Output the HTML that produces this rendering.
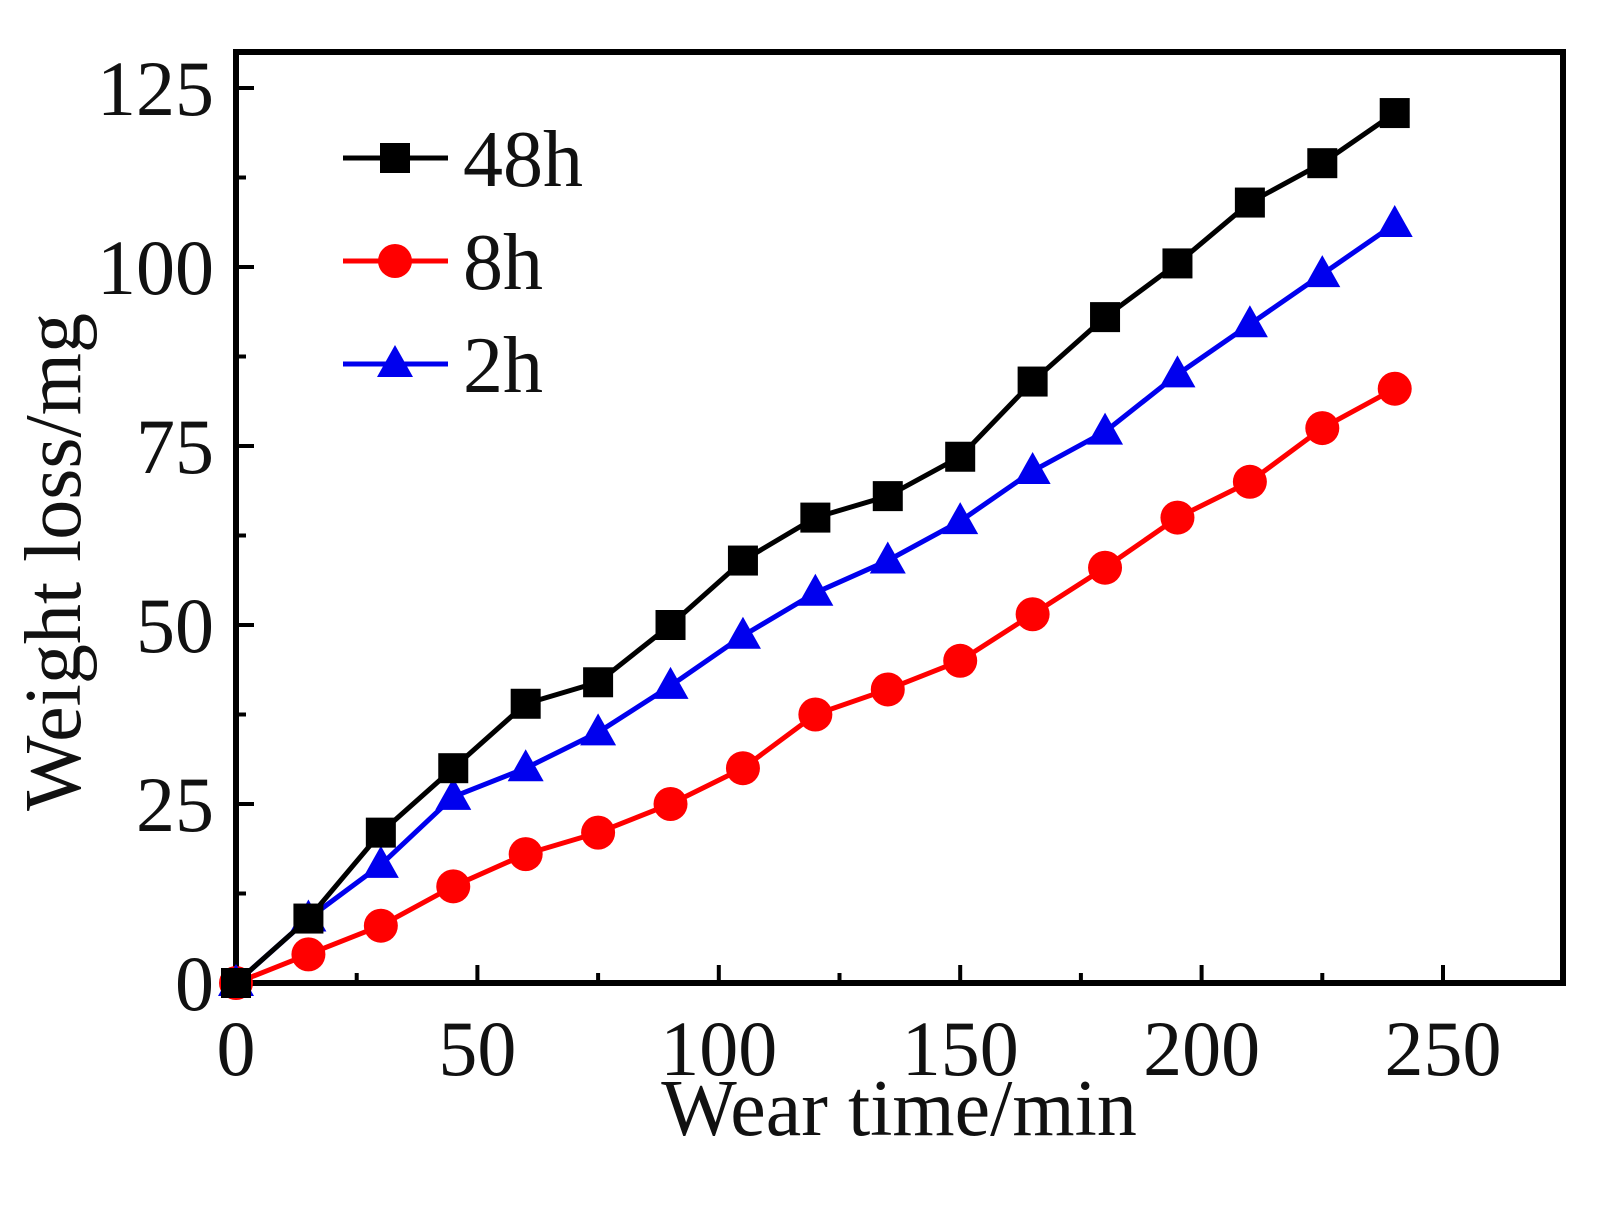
<!DOCTYPE html>
<html><head><meta charset="utf-8"><style>
html,body{margin:0;padding:0;background:#fff}
svg{display:block}
text{font-family:"Liberation Serif",serif;fill:#111}
</style></head><body>
<svg id="chart" width="1603" height="1205" viewBox="0 0 1603 1205" xmlns="http://www.w3.org/2000/svg">
<g id="plot"></g>
</svg>
<script>
const xValues=[0,15,30,45,60,75,90,105,120,135,150,165,180,195,210,225,240];
const series48h=[0,9,21,30,39,42,50,59,65,68,73.5,84,93,100.5,109,114.5,121.5];
const series8h=[0,4,8,13.5,18,21,25,30,37.5,41,45,51.5,58,65,70,77.5,83];
const series2h=[0,9,16.5,26,30,35,41.5,48.5,54.5,59,64.5,71.5,77,85,92,99,106];
const xTicks=[0,50,100,150,200,250];
const yTicks=[0,25,50,75,100,125];
const seriesNames=["48h","8h","2h"];

const L=236,R=1563,T=52,B=983;
const sx=v=>L+(v)*(1443-236)/250;
const sy=v=>B-v*(983-267)/100;
const NS="http://www.w3.org/2000/svg";
const g=document.getElementById('plot');
function mk(t,a,p){const e=document.createElementNS(NS,t);for(const k in a)e.setAttribute(k,a[k]);(p||g).appendChild(e);return e;}

for(let v=0;v<=275;v+=25){const major=v%50===0;
 const t=mk('line',{x1:sx(v),x2:sx(v),y1:B,y2:B-(major?18:10),stroke:'#000','stroke-width':4});
 }
for(let v=0;v<=125;v+=12.5){const major=v%25===0;
 const t=mk('line',{x1:L,x2:L+(major?18:10),y1:sy(v),y2:sy(v),stroke:'#000','stroke-width':4});
 }

const frame=mk('rect',{x:L,y:T,width:R-L,height:B-T,fill:'none',stroke:'#000','stroke-width':6});


xTicks.forEach(v=>{const t=mk('text',{x:sx(v),y:1075,'font-size':78,'text-anchor':'middle'});t.textContent=v;
 });
yTicks.forEach(v=>{const t=mk('text',{x:214,y:sy(v)+27,'font-size':78,'text-anchor':'end'});t.textContent=v;
 });

const xt=mk('text',{x:899,y:1135,'font-size':80,'text-anchor':'middle'});xt.textContent='Wear time/min';

const yt=mk('text',{x:0,y:0,'font-size':80,'text-anchor':'middle',transform:'translate(80,562) rotate(-90)'});yt.textContent='Weight loss/mg';


function marker(type,x,y,color,parent){
 if(type==='square')return mk('rect',{x:x-15,y:y-15,width:30,height:30,fill:color},parent);
 if(type==='circle')return mk('circle',{cx:x,cy:y,r:17,fill:color},parent);
 return mk('polygon',{points:`${x},${y-19} ${x+18},${y+13} ${x-18},${y+13}`,fill:color},parent);
}
const defs=[[series8h,'#ff0000','circle','series-8h'],[series2h,'#0000ee','triangle','series-2h'],[series48h,'#000000','square','series-48h']];
defs.forEach(([d,c,m,n])=>{
 const grp=mk('g',{});
 mk('polyline',{points:d.map((v,i)=>sx(xValues[i])+','+sy(v)).join(' '),fill:'none',stroke:c,'stroke-width':5,'stroke-linejoin':'round'},grp);
 d.forEach((v,i)=>{const e=marker(m,sx(xValues[i]),sy(v),c,grp);
  });
});

const leg=mk('g',{});
[['#000','square'],['#ff0000','circle'],['#0000ee','triangle']].forEach(([c,m],i)=>{
 const y=158+i*103;
 const en=mk('g',{},leg);
 mk('line',{x1:343,x2:448,y1:y,y2:y,stroke:c,'stroke-width':5},en);
 marker(m,395,y,c,en);
 const t=mk('text',{x:463,y:y+28,'font-size':80},en);t.textContent=seriesNames[i];
});
</script>
</body></html>
